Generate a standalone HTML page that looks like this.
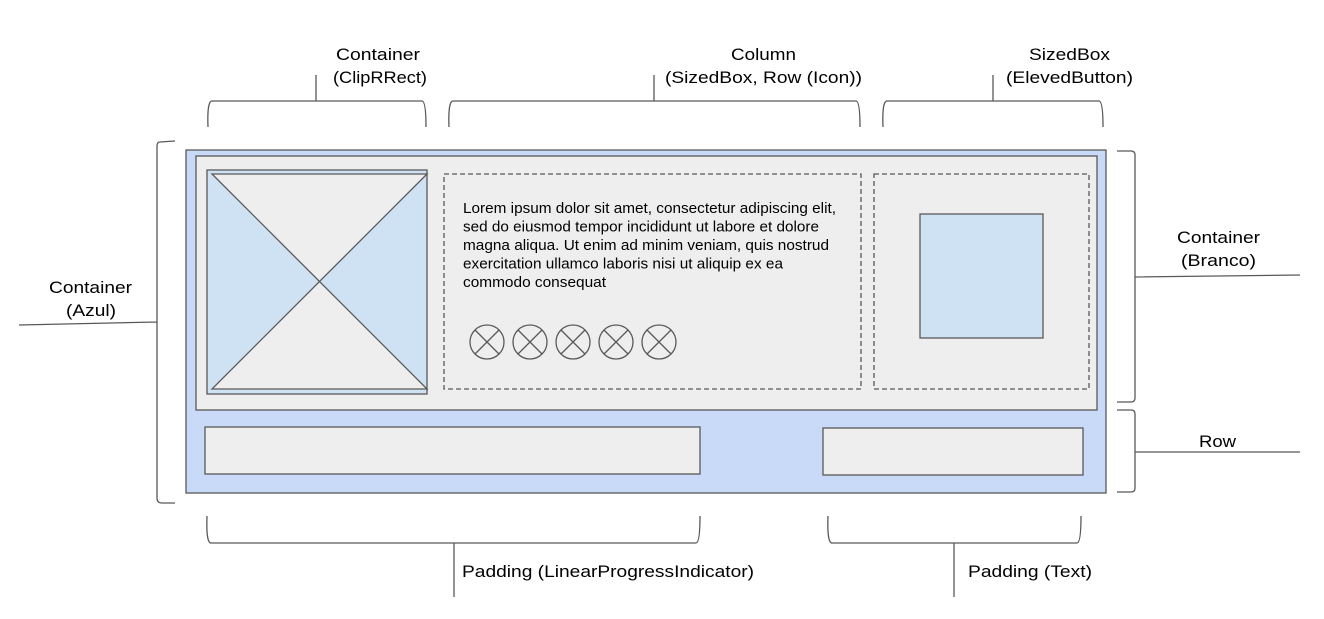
<!DOCTYPE html>
<html><head><meta charset="utf-8"><style>body{margin:0;background:#fff}svg{display:block}text{font-family:"Liberation Sans",Arial,sans-serif;fill:#000}</style></head><body>
<svg width="1324" height="619" viewBox="0 0 1324 619" xmlns="http://www.w3.org/2000/svg">
<g fill="none" stroke="#595959" stroke-width="1.3">
<path d="M208 127 Q207 101 212 101 L422 101 Q426 101 426 127 M316 101 L316 75"/>
<path d="M449 127 Q448 101 453 101 L856 101 Q860 101 860 127 M654 101 L654 75"/>
<path d="M883 127 Q882 101 887 101 L1099 101 Q1103 101 1103 127 M993 101 L993 75"/>
<path d="M175 141 L160 142 Q157 142 157 146 L157 498 Q157 503 162 503 L175 503 M157 322 L19 325"/>
<path d="M1117 151 L1131 151 Q1135 151 1135 155 L1135 398 Q1135 402 1131 402 L1117 402 M1135 277 L1300 275"/>
<path d="M1117 410 L1131 410 Q1135 410 1135 414 L1135 488 Q1135 492 1131 492 L1117 492 M1135 452 L1300 452"/>
<path d="M207 516 Q206 543 211 543 L696 543 Q700 543 700 516 M454 543 L454 597"/>
<path d="M828 516 Q827 543 832 543 L1077 543 Q1081 543 1081 516 M954 543 L954 597"/>
</g>
<rect x="186" y="150" width="920" height="343" fill="#c9daf8" stroke="#595959" stroke-width="1.3"/>
<rect x="196" y="156" width="901" height="254" fill="#eeeeee" stroke="#595959" stroke-width="1.3"/>
<rect x="207" y="170" width="220" height="224" fill="#cfe2f3" stroke="#595959" stroke-width="1.3"/>
<path d="M212 174 L427 174 L319.5 281.5 Z M212 389 L427 389 L319.5 281.5 Z" fill="#eeeeee" stroke="#595959" stroke-width="1.3"/>
<rect x="444" y="174" width="417" height="215" fill="none" stroke="#595959" stroke-width="1.3" stroke-dasharray="5 3"/>
<rect x="874" y="174" width="215" height="215" fill="none" stroke="#595959" stroke-width="1.3" stroke-dasharray="5 3"/>
<rect x="920" y="214" width="123" height="124" fill="#cfe2f3" stroke="#595959" stroke-width="1.3"/>
<rect x="205" y="427" width="495" height="47" fill="#eeeeee" stroke="#595959" stroke-width="1.3"/>
<rect x="823" y="428" width="260" height="47" fill="#eeeeee" stroke="#595959" stroke-width="1.3"/>
<g fill="none" stroke="#595959" stroke-width="1.3">
<g id="c"><circle cx="487" cy="342" r="17"/><path d="M475 330 L499 354 M499 330 L475 354"/></g>
<use href="#c" x="43"/><use href="#c" x="86"/><use href="#c" x="129"/><use href="#c" x="172"/>
</g>
<g font-size="14.5" lengthAdjust="spacingAndGlyphs">
<text x="463" y="213" textLength="373" lengthAdjust="spacingAndGlyphs">Lorem ipsum dolor sit amet, consectetur adipiscing elit,</text>
<text x="463" y="231.5" textLength="356" lengthAdjust="spacingAndGlyphs">sed do eiusmod tempor incididunt ut labore et dolore</text>
<text x="463" y="250" textLength="366" lengthAdjust="spacingAndGlyphs">magna aliqua. Ut enim ad minim veniam, quis nostrud</text>
<text x="463" y="268.5" textLength="320" lengthAdjust="spacingAndGlyphs">exercitation ullamco laboris nisi ut aliquip ex ea</text>
<text x="463" y="287" textLength="143" lengthAdjust="spacingAndGlyphs">commodo consequat</text>
</g>
<g font-size="17">
<text x="336" y="60" textLength="84" lengthAdjust="spacingAndGlyphs">Container</text><text x="333" y="83" textLength="94" lengthAdjust="spacingAndGlyphs">(ClipRRect)</text>
<text x="731" y="60" textLength="65" lengthAdjust="spacingAndGlyphs">Column</text><text x="665" y="83" textLength="197" lengthAdjust="spacingAndGlyphs">(SizedBox, Row (Icon))</text>
<text x="1029" y="60" textLength="81" lengthAdjust="spacingAndGlyphs">SizedBox</text><text x="1006" y="83" textLength="127" lengthAdjust="spacingAndGlyphs">(ElevedButton)</text>
<text x="49" y="293" textLength="83" lengthAdjust="spacingAndGlyphs">Container</text><text x="66" y="316" textLength="50" lengthAdjust="spacingAndGlyphs">(Azul)</text>
<text x="1177" y="243" textLength="83" lengthAdjust="spacingAndGlyphs">Container</text><text x="1181" y="266" textLength="75" lengthAdjust="spacingAndGlyphs">(Branco)</text>
<text x="1199" y="447" textLength="37" lengthAdjust="spacingAndGlyphs">Row</text>
<text x="462" y="577" textLength="292" lengthAdjust="spacingAndGlyphs">Padding (LinearProgressIndicator)</text>
<text x="968" y="577" textLength="124" lengthAdjust="spacingAndGlyphs">Padding (Text)</text>
</g>
</svg>
</body></html>
